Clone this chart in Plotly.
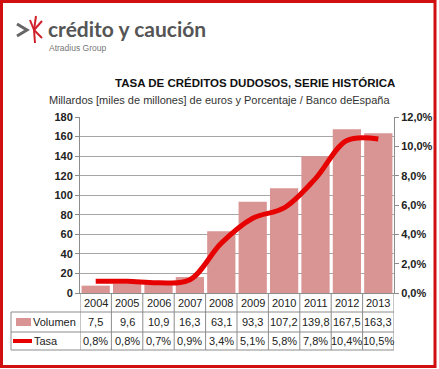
import plotly.graph_objects as go

years = ["2004", "2005", "2006", "2007", "2008", "2009", "2010", "2011", "2012", "2013"]
volumen = [7.5, 9.6, 10.9, 16.3, 63.1, 93.3, 107.2, 139.8, 167.5, 163.3]
tasa = [0.8, 0.8, 0.7, 0.9, 3.4, 5.1, 5.8, 7.8, 10.4, 10.5]
left_ticks = [0, 20, 40, 60, 80, 100, 120, 140, 160, 180]
right_ticks = [0, 2, 4, 6, 8, 10, 12]

W, H = 439, 369
L, R, T, B = 80, 394, 117, 293

def px(x):
    return (x - L) / (R - L)

def py(y):
    return (B - y) / (B - T)

FONT = "Liberation Sans, Arial, sans-serif"
BAR = "#D89593"
LINE = "#E60000"
GRID = "#A6A6A6"
TBL = "#8C8C8C"

fig = go.Figure()
fig.add_trace(go.Bar(x=years, y=volumen, marker_color=BAR, marker_line_width=0,
                     name="Volumen", yaxis="y"))
fig.add_trace(go.Scatter(x=years, y=tasa, mode="lines",
                         line=dict(color=LINE, width=5, shape="spline", smoothing=1.0),
                         name="Tasa", yaxis="y2"))

shapes = []
ann = []

def text(x, y, s, font, xref="paper", xanchor="center"):
    ann.append(dict(x=x, y=y, xref=xref, yref="paper", xanchor=xanchor, yanchor="middle",
                    showarrow=False, text=s, font=font))

# Table lines
for yy in [312, 332, 350]:
    shapes.append(dict(type="line", xref="paper", yref="paper", x0=px(11), x1=px(R), y0=py(yy), y1=py(yy),
                       line=dict(color=TBL, width=1)))
shapes.append(dict(type="line", xref="paper", yref="paper", x0=px(11), x1=px(11), y0=py(312), y1=py(350),
                   line=dict(color=TBL, width=1)))
for i in range(len(years) + 1):
    shapes.append(dict(type="line", xref="x", yref="paper", x0=i - 0.5, x1=i - 0.5, y0=0, y1=py(350),
                       line=dict(color=TBL, width=1)))

# Table values
tf = dict(family=FONT, size=11, color="#222")
for i, (yr, v, t) in enumerate(zip(years, volumen, tasa)):
    text(i, py(303), yr, tf, xref="x")
    text(i, py(322), f"{v:.1f}".replace(".", ","), tf, xref="x")
    text(i, py(341), f"{t:.1f}%".replace(".", ","), tf, xref="x")

# Legend keys in table
shapes.append(dict(type="rect", xref="paper", yref="paper", x0=px(16), x1=px(31), y0=py(318), y1=py(326),
                   fillcolor=BAR, line=dict(width=0)))
shapes.append(dict(type="line", xref="paper", yref="paper", x0=px(13), x1=px(32), y0=py(341), y1=py(341),
                   line=dict(color=LINE, width=4)))
text(px(31), py(322), "Volumen", tf, xanchor="left")
text(px(32), py(341), "Tasa", tf, xanchor="left")

# Title and subtitle
text(px(255), py(83), "<b>TASA DE CRÉDITOS DUDOSOS, SERIE HISTÓRICA</b>",
     dict(family=FONT, size=11.5, color="#111"))
text(px(392), py(100), "Millardos [miles de millones] de euros y Porcentaje / Banco deEspaña",
     dict(family=FONT, size=11, color="#333"), xanchor="right")

# Logo
text(px(46), py(28), "<b>crédito y caución</b>",
     dict(family="Lato, " + FONT, size=21, color="#555555"), xanchor="left")
text(px(47), py(48), "Atradius Group", dict(family=FONT, size=8.5, color="#777777"), xanchor="left")
shapes.append(dict(type="path", xref="paper", yref="paper",
                   path=f"M {px(17)} {py(24)} L {px(27)} {py(30)} L {px(17)} {py(36)}",
                   line=dict(color="#666666", width=3)))
cx, cy = 34, 30
for (ex, ey) in [(36, 16), (42, 21), (42, 38), (35, 43), (30, 20)]:
    shapes.append(dict(type="line", xref="paper", yref="paper", x0=px(cx), y0=py(cy), x1=px(ex), y1=py(ey),
                       line=dict(color="#D0202A", width=2)))

# Outer red frame
shapes.append(dict(type="rect", xref="paper", yref="paper", x0=px(1.5), x1=px(435), y0=py(1.5), y1=py(366.5),
                   line=dict(color="#D01010", width=3)))

fig.update_layout(
    width=W, height=H,
    margin=dict(l=L, r=W - R, t=T, b=H - B, autoexpand=False),
    paper_bgcolor="white", plot_bgcolor="white",
    showlegend=False, bargap=0.1,
    shapes=shapes, annotations=ann,
    xaxis=dict(type="category", showticklabels=False, showgrid=False, showline=True, linecolor=TBL,
               ticks="", range=[-0.5, 9.5]),
    yaxis=dict(range=[0, 180], tickvals=left_ticks, ticktext=[f"<b>{v}</b>" for v in left_ticks],
               showgrid=True, gridcolor=GRID, gridwidth=1, showline=True, linecolor=TBL,
               ticks="outside", ticklen=4, tickcolor=TBL, zeroline=False,
               tickfont=dict(family=FONT, size=11, color="#222")),
    yaxis2=dict(range=[0, 12], overlaying="y", side="right", tickvals=right_ticks,
                ticktext=[f"<b>{v:.1f}%</b>".replace(".", ",") for v in right_ticks],
                showgrid=False, showline=True, linecolor=TBL, ticks="outside", ticklen=4,
                tickcolor=TBL, zeroline=False, tickfont=dict(family=FONT, size=11, color="#222")),
)

fig.write_html("out.html", config={"displayModeBar": False},
               post_script="document.body.style.margin='0';document.body.style.overflow='hidden';")
